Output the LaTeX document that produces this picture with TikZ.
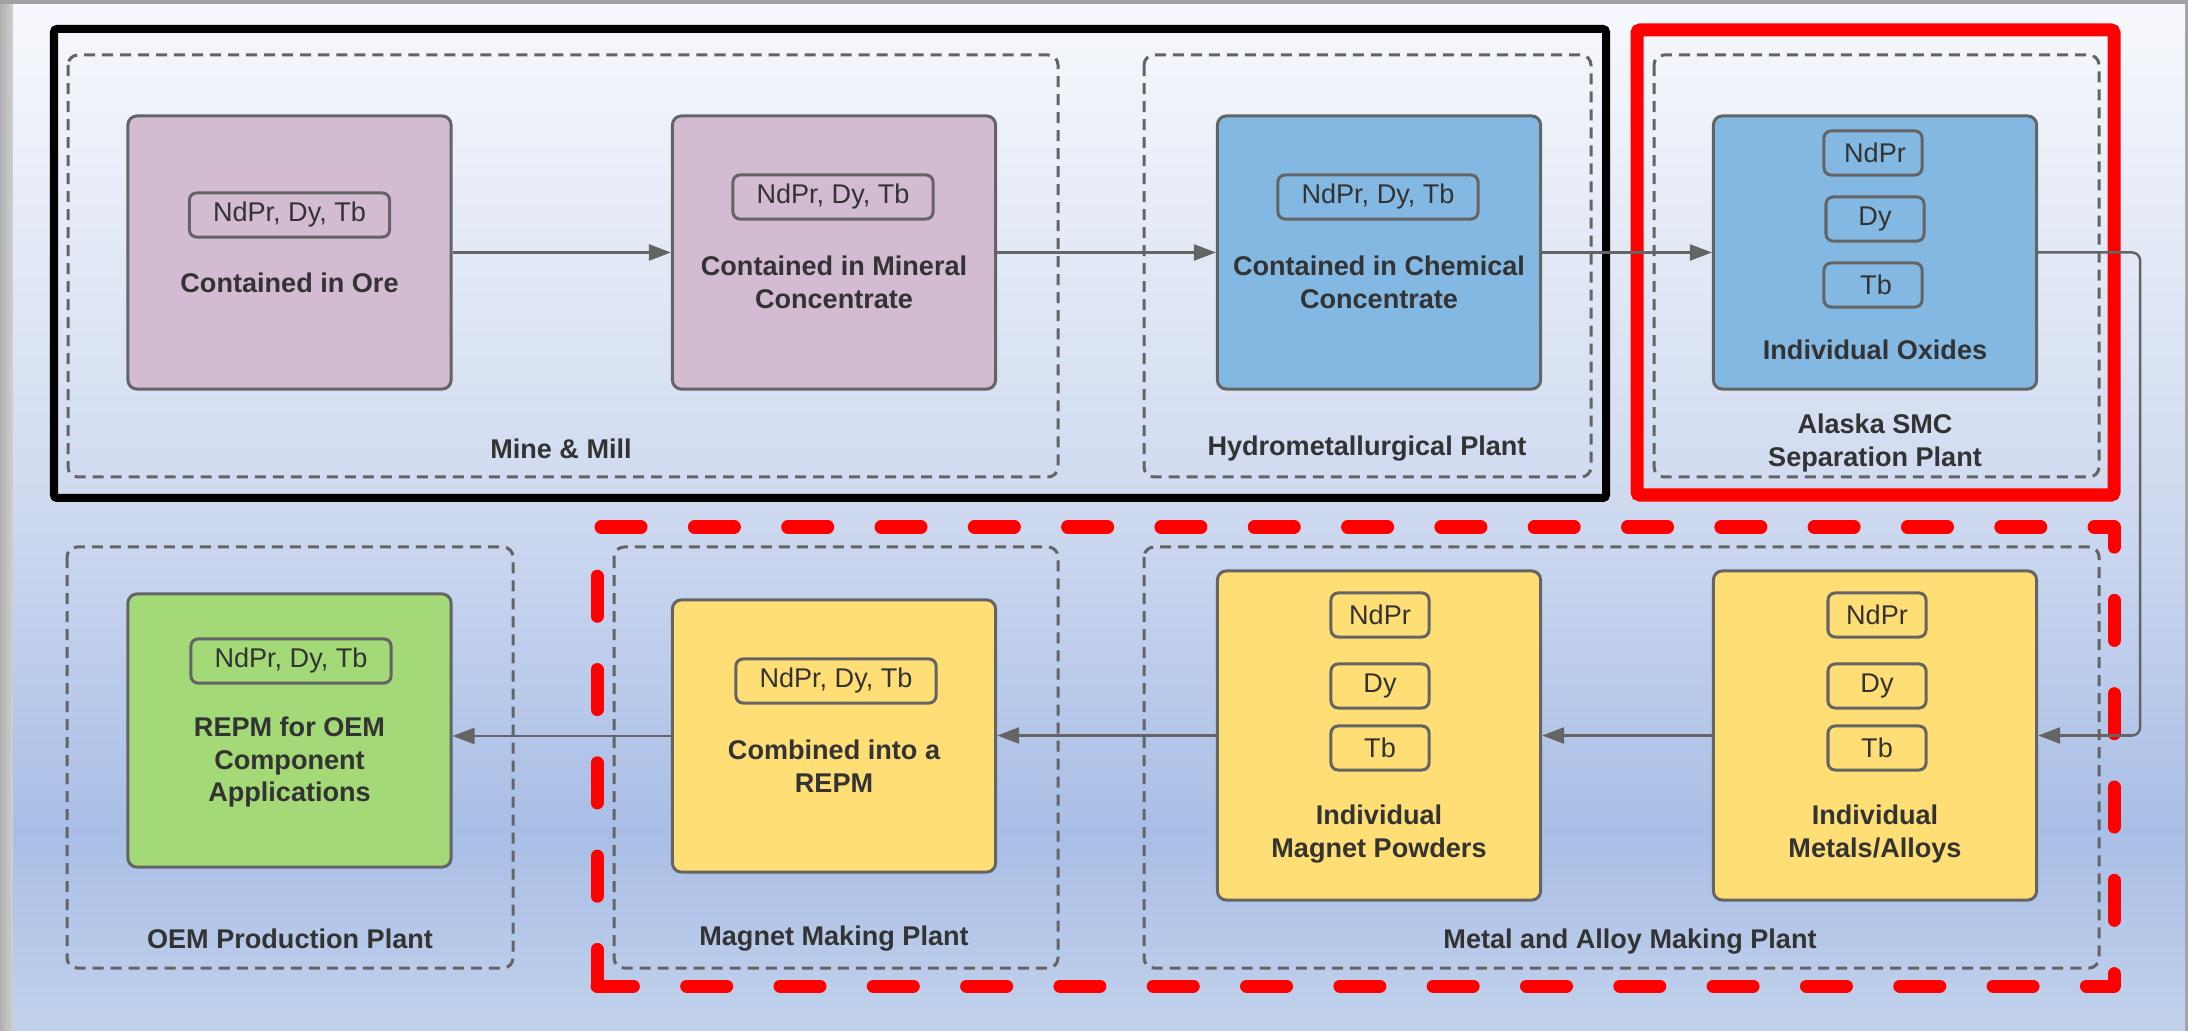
\documentclass[tikz,border=0pt]{standalone}
\usepackage{fontspec}
\setmainfont{Liberation Sans}
\usetikzlibrary{arrows.meta}

\definecolor{bgtop}{HTML}{F6F8FC}
\definecolor{bgmid}{HTML}{CFDAF0}
\definecolor{bgdeep}{HTML}{A9BEE6}
\definecolor{bgbot}{HTML}{C2D2EC}
\definecolor{framegray}{HTML}{A2A2A2}
\definecolor{edgegray}{HTML}{646464}
\definecolor{textgray}{HTML}{333333}
\definecolor{orepink}{HTML}{D3BBD2}
\definecolor{oxideblue}{HTML}{83B8E3}
\definecolor{magyellow}{HTML}{FFDE75}
\definecolor{oemgreen}{HTML}{A3D977}
\definecolor{alarmred}{HTML}{FF0000}

% sky-like backdrop, light at the top, deepest near the lower row
\pgfdeclareverticalshading{backdrop}{100bp}{color(0bp)=(bgbot); color(25bp)=(bgbot);
  color(34.75bp)=(bgdeep); color(50.7bp)=(bgmid); color(75bp)=(bgtop); color(100bp)=(bgtop)}

\begin{document}
\begin{tikzpicture}[x=0.01cm,y=-0.01cm,
  font=\fontsize{7.7}{9.3}\selectfont,
  stage/.style={draw=edgegray, line width=0.03cm, rounded corners=0.09cm, minimum width=3.23cm},
  tag/.style={draw=edgegray, line width=0.03cm, rounded corners=0.07cm, minimum height=0.44cm,
    text=textgray, inner sep=0pt},
  title/.style={text=textgray, font=\fontsize{7.7}{9.3}\selectfont\bfseries, align=center},
  plant/.style={draw=edgegray, line width=0.03cm, dash pattern=on 0.11cm off 0.07cm, rounded corners=0.1cm},
  flow/.style={draw=edgegray, line width=0.025cm, -{Triangle[length=0.22cm,width=0.16cm]}},
  reddash/.style={draw=alarmred, line width=0.13cm, line cap=round, line join=round},
]
\useasboundingbox (0,0) rectangle (2188,1031);

% window frame and backdrop
\fill[framegray] (0,0) rectangle (2188,1031);
\shade[left color=framegray!85, right color=framegray!50] (0,5) rectangle (13,1031);
\shade[shading=backdrop] (13,5) rectangle (2185,1031);

% outer frames
\draw[black, line width=0.08cm, rounded corners=0.03cm] (54,29) rectangle (1606,498);
\draw[alarmred, line width=0.13cm, rounded corners=0.03cm] (1637,30) rectangle (2114,495);
\draw[reddash, dash pattern=on 0.40cm off 0.5326cm, dash phase=0.035cm]
  (597,986) -- (597,527) -- (2114,527) -- (2114,986) -- cycle;

% plants
\draw[plant] (68,55) rectangle (1058,477);
\draw[plant] (1144,55) rectangle (1591,477);
\draw[plant] (1654,55) rectangle (2099,477);
\draw[plant] (67,547) rectangle (513,968);
\draw[plant] (614,547) rectangle (1058,968);
\draw[plant] (1144,547) rectangle (2099,968);

\node[title] (mill-label) at (561,449) {Mine \& Mill};
\node[title] (hydro-label) at (1367,449) {Hydrometallurgical Plant};
\node[title] (smc-label) at (1875,443) {Alaska SMC\\Separation Plant};
\node[title] (oem-label) at (290,939) {OEM Production Plant};
\node[title] (magnet-label) at (834,939) {Magnet Making Plant};
\node[title] (alloy-label) at (1630,942) {Metal and Alloy Making Plant};

% upper row
\node[stage, fill=orepink, minimum height=2.73cm] (ore) at (289.5,252.5) {};
\node[tag, minimum width=2cm] (ore-tag) at (289.5,215) {NdPr, Dy, Tb};
\node[title] (ore-title) at (289.5,283) {Contained in Ore};

\node[stage, fill=orepink, minimum height=2.73cm] (mineral) at (834,252.5) {};
\node[tag, minimum width=2cm] (mineral-tag) at (833,197) {NdPr, Dy, Tb};
\node[title] (mineral-title) at (834,282) {Contained in Mineral\\Concentrate};

\node[stage, fill=oxideblue, minimum height=2.73cm] (chem) at (1379,252.5) {};
\node[tag, minimum width=2cm] (chem-tag) at (1378,197) {NdPr, Dy, Tb};
\node[title] (chem-title) at (1379,282) {Contained in Chemical\\Concentrate};

\node[stage, fill=oxideblue, minimum height=2.73cm] (oxides) at (1875,252.5) {};
\node[tag, minimum width=0.98cm] (oxides-nd) at (1873,153) {\hspace{0.04cm}NdPr};
\node[tag, minimum width=0.98cm] (oxides-dy) at (1875,219) {Dy};
\node[tag, minimum width=0.98cm] (oxides-tb) at (1873,285) {\hspace{0.06cm}Tb};
\node[title] (oxides-title) at (1875,350) {Individual Oxides};

% lower row
\node[stage, fill=oemgreen, minimum height=2.73cm] (repm) at (289.5,730.5) {};
\node[tag, minimum width=2cm] (repm-tag) at (291,661) {NdPr, Dy, Tb};
\node[title] (repm-title) at (289.5,762) {REPM for OEM\\Component\\Applications};

\node[stage, fill=magyellow, minimum height=2.72cm] (combined) at (834,736) {};
\node[tag, minimum width=2cm] (combined-tag) at (836,681) {NdPr, Dy, Tb};
\node[title] (combined-title) at (834,766) {Combined into a\\REPM};

\node[stage, fill=magyellow, minimum height=3.29cm] (powders) at (1379,735.5) {};
\node[tag, minimum width=0.98cm] (powders-nd) at (1380,615) {NdPr};
\node[tag, minimum width=0.98cm] (powders-dy) at (1380,686) {Dy};
\node[tag, minimum width=0.98cm] (powders-tb) at (1380,748) {Tb};
\node[title] (powders-title) at (1379,834) {Individual\\Magnet Powders};

\node[stage, fill=magyellow, minimum height=3.29cm] (metals) at (1875,735.5) {};
\node[tag, minimum width=0.98cm] (metals-nd) at (1877,615) {NdPr};
\node[tag, minimum width=0.98cm] (metals-dy) at (1877,686) {Dy};
\node[tag, minimum width=0.98cm] (metals-tb) at (1877,748) {Tb};
\node[title] (metals-title) at (1875,834) {Individual\\Metals/Alloys};

% material flow
\draw[flow] (ore.east) -- (mineral.west);
\draw[flow] (mineral.east) -- (chem.west);
\draw[flow] (chem.east) -- (oxides.west);
\draw[flow, rounded corners=0.08cm] (oxides.east) -- ++(102,0) |- (metals.east);
\draw[flow] (metals.west) -- (powders.east);
\draw[flow] (powders.west) -- (powders.west -| combined.east);
\draw[flow] (combined.west) -- (combined.west -| repm.east);
\end{tikzpicture}
\end{document}
